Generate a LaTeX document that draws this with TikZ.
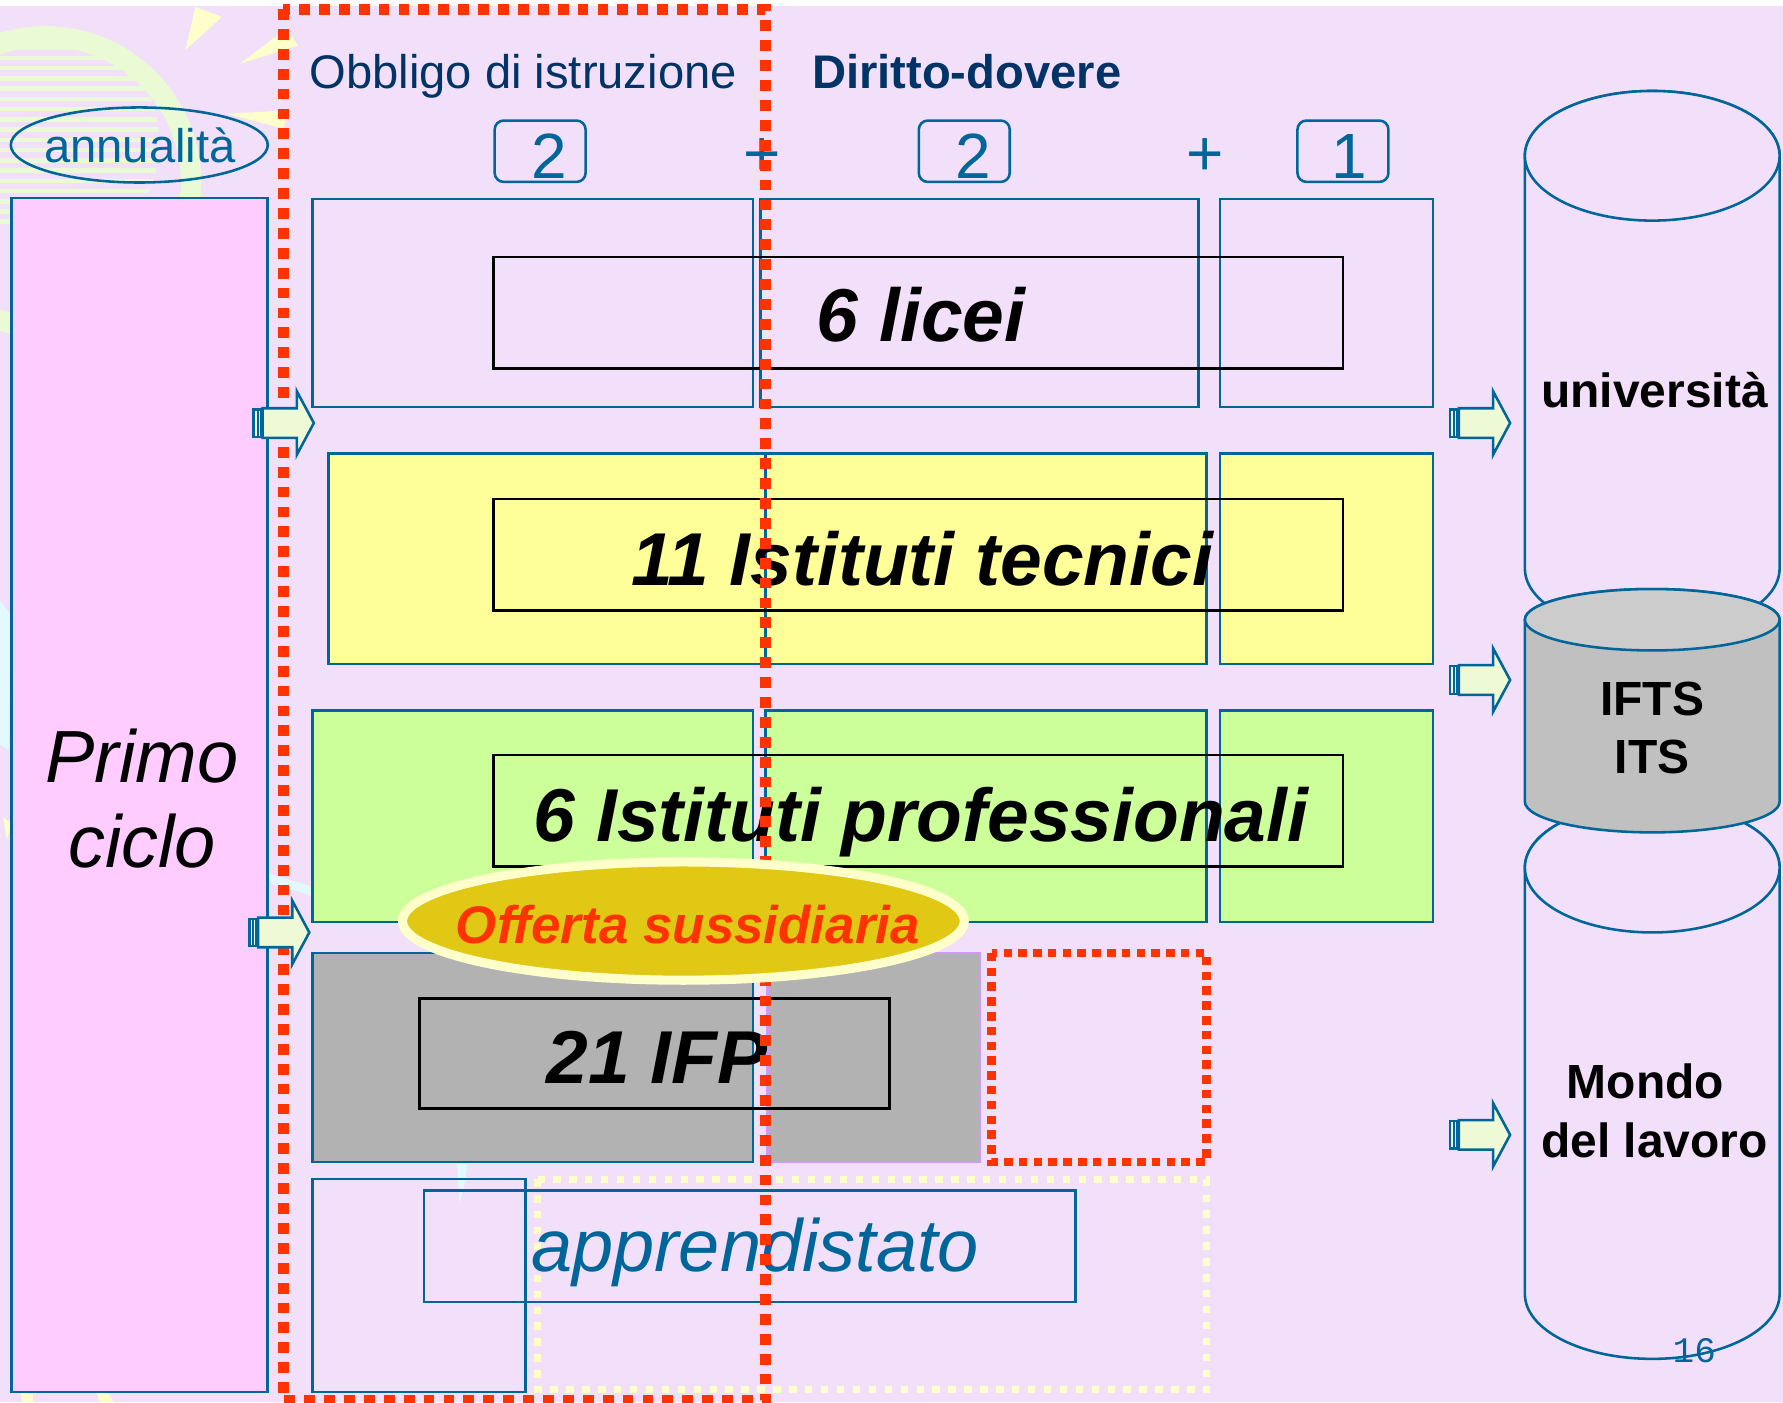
\documentclass[tikz,border=0pt]{standalone}
\usepackage{fontspec}
\setmainfont{Liberation Sans}
\newfontfamily\pagefont{Liberation Mono}
\usepackage{tikz}
\usetikzlibrary{calc}
\definecolor{slidebg}{RGB}{242,223,250}
\definecolor{frameblue}{RGB}{0,102,153}
\definecolor{navy}{RGB}{0,51,102}
\definecolor{primopink}{RGB}{255,204,255}
\definecolor{tecyellow}{RGB}{255,255,153}
\definecolor{profgreen}{RGB}{204,255,153}
\definecolor{ifpgray}{RGB}{178,178,178}
\definecolor{obbred}{RGB}{255,51,0}
\definecolor{creamdot}{RGB}{255,255,204}
\definecolor{goldfill}{RGB}{224,200,20}
\definecolor{arrowfill}{RGB}{238,250,214}
\definecolor{lilacline}{RGB}{204,153,255}
\definecolor{decogreen}{RGB}{234,250,212}
\definecolor{decocyan}{RGB}{228,248,255}
\definecolor{drumgray}{RGB}{192,192,192}
\definecolor{drumtop}{RGB}{204,204,204}
% striped block arrow: left end, centre line
\def\stripearrow(#1,#2){%
  \fill[frameblue] (#1,#2-13) rectangle (#1+9,#2+13);
  \draw[arrowfill, line width=0.25mm] (#1+3,#2-11) -- (#1+3,#2+11) (#1+6,#2-11) -- (#1+6,#2+11);
  \draw[frameblue, fill=arrowfill, line width=0.45mm] (#1+9,#2-13) -- (#1+39,#2-13) -- (#1+39,#2-28) -- (#1+54,#2) -- (#1+39,#2+28) -- (#1+39,#2+13) -- (#1+9,#2+13) -- cycle;
}
% drum: body fill, top centre, bottom centre, y radius, lid fill
\def\drum#1#2#3#4#5{%
  \draw[frameblue, line width=0.45mm, fill=#1] (1341,#2) -- (1341,#3) arc (180:0:112 and #4) -- (1565,#2) arc (0:-180:112 and #4) -- cycle;
  \draw[frameblue, line width=0.45mm, fill=#5] (1453,#2) ellipse (112 and #4);
}

\begin{document}
\begin{tikzpicture}[x=0.2mm, y=0.2mm, yscale=-1,
    rowframe/.style={draw=frameblue, line width=0.45mm},
    labelframe/.style={draw=black, line width=0.45mm},
    numframe/.style={draw=frameblue, line width=0.45mm, rounded corners=1.6mm},
    dashred/.style={draw=obbred, line width=1.95mm, dash pattern=on 1.9mm off 1.6mm},
    dotred/.style={draw=obbred, line width=1.5mm, dash pattern=on 1.5mm off 1.1mm},
    dotcream/.style={draw=creamdot, line width=1.25mm, dash pattern=on 1.3mm off 1.5mm},
    headfont/.style={text=navy, font=\fontsize{23.6}{29}\selectfont},
    numfont/.style={text=frameblue, font=\fontsize{32}{38}\selectfont},
    bigfont/.style={font=\fontsize{37.5}{44}\selectfont\bfseries\itshape},
    drumfont/.style={font=\fontsize{24}{29}\selectfont\bfseries}]
\useasboundingbox (0,0) rectangle (1568,1233);

%%%%% BACKGROUND %%%%%
\fill[white] (0,0) rectangle (1568,5);
\fill[slidebg] (0,5) rectangle (1568,1233);

\begin{scope}
  \clip (0,5) rectangle (249,1233);
  \draw[decogreen, line width=3.6mm] (40,160) circle (128);
  \clip (30,125) circle (110);
  \foreach \k in {0,...,17}
    \fill[decogreen] (0,40+9*\k) rectangle (160,44+9*\k);
\end{scope}
\fill[creamdot] (172,6) -- (195,15) -- (163,44) -- cycle;
\fill[creamdot] (211,56) -- (262,40) -- (252,25) -- cycle;
\fill[creamdot] (199,100) -- (254,97) -- (249,113) -- cycle;
\fill[creamdot] (3,719) -- (10,724) -- (6,739) -- cycle;
\fill[creamdot] (18,1225) -- (29,1226) -- (29,1233) -- (20,1233) -- cycle;
\fill[creamdot] (85,1225) -- (95,1225) -- (100,1233) -- (88,1233) -- cycle;
\fill[decocyan] (0,528) -- (9,540) -- (8,660) -- (0,655) -- cycle;
\fill[decocyan] (235,768) -- (276,780) -- (276,788) -- (240,778) -- cycle;
\fill[decocyan] (402,1024) -- (411,1024) -- (409,1040) -- (404,1059) -- cycle;

%%%%% PRIMO CICLO %%%%%
\draw[rowframe, fill=primopink] (10,174) rectangle (235,1224);
\node[font=\fontsize{37}{44}\selectfont\itshape, anchor=base] (primo) at (125,688) {Primo};
\node[font=\fontsize{37}{44}\selectfont\itshape, anchor=base] (ciclo) at (125,763) {ciclo};

\draw[frameblue, line width=0.45mm] (122.5,127.5) ellipse (113 and 33);
\node[headfont, text=frameblue] (annual) at (123,128) {annualità};

%%%%% HEADINGS %%%%%
\node[headfont, anchor=base west] (obbligo) at (266,78) {Obbligo di istruzione};
\node[headfont, anchor=base west, font=\fontsize{23.6}{29}\selectfont\bfseries] (diritto) at (708,78) {Diritto-dovere};

\draw[numframe] (435,106) rectangle (515,160);
\node[numfont, anchor=base] (anni1) at (483,157) {2};
\node[numfont] (piu1) at (670,138) {+};
\draw[numframe] (808,106) rectangle (888,160);
\node[numfont, anchor=base] (anni2) at (856,157) {2};
\node[numfont] (piu2) at (1060,138) {+};
\draw[numframe] (1141,106) rectangle (1221,160);
\node[numfont, anchor=base] (anni3) at (1187,157) {1};

%%%%% LICEI %%%%%
\draw[rowframe] (275,175) rectangle (662,358);
\draw[rowframe] (669,175) rectangle (1054,358);
\draw[rowframe] (1073,175) rectangle (1260,358);
\draw[labelframe] (434,226) rectangle (1181,324);
\node[bigfont, anchor=base] (licei) at (810,300) {6 licei};

%%%%% TECNICI %%%%%
\draw[rowframe, fill=tecyellow] (289,399) rectangle (673,584);
\draw[rowframe, fill=tecyellow] (673,399) rectangle (1061,584);
\draw[rowframe, fill=tecyellow] (1073,399) rectangle (1260,584);
\draw[labelframe] (434,439) rectangle (1181,537);
\node[bigfont, anchor=base] (tecnici) at (811,515) {11 Istituti tecnici};

%%%%% PROFESSIONALI %%%%%
\draw[rowframe, fill=profgreen] (275,625) rectangle (662,811);
\draw[rowframe, fill=profgreen] (673,625) rectangle (1061,811);
\draw[rowframe, fill=profgreen] (1073,625) rectangle (1260,811);
\draw[labelframe] (434,664) rectangle (1181,762);
\node[bigfont, anchor=base] (profess) at (810,740) {6 Istituti professionali};

%%%%% IFP %%%%%
\draw[rowframe, fill=ifpgray] (275,838) rectangle (662,1022);
\draw[draw=lilacline, line width=0.45mm, fill=ifpgray] (675,838) rectangle (862,1022);
\draw[labelframe] (369,878) rectangle (782,975);
\node[bigfont, anchor=base] (ifp) at (578,953) {21 IFP};

%%%%% APPRENDISTATO %%%%%
\draw[rowframe] (275,1037) rectangle (462,1224);
\draw[dotcream] (473,1037) rectangle (1061,1222);
\draw[rowframe] (373,1047) rectangle (946,1145);
\node[text=frameblue, font=\fontsize{37}{44}\selectfont\itshape, anchor=base] (appr) at (664,1118) {apprendistato};

%%%%% OBBLIGO FRAME %%%%%
\draw[dashred] (249,8) rectangle (673,1232);
\draw[dotred] (872,838) rectangle (1061,1022);

%%%%% ARROWS %%%%%
\stripearrow(222,372)
\stripearrow(218,820)
\stripearrow(1274,372)
\stripearrow(1274,598)
\stripearrow(1274,998)

\draw[draw=creamdot, line width=1.6mm, fill=goldfill] (601,810) ellipse (247 and 52);
\node[text=obbred, font=\fontsize{26.5}{32}\selectfont\bfseries\itshape, anchor=base] (offerta) at (605,830) {Offerta sussidiaria};

%%%%% USCITE %%%%%
\drum{slidebg}{137}{500}{57}{slidebg}
\drum{slidebg}{763}{1138}{57}{slidebg}
\drum{drumgray}{545}{705}{27}{drumtop}
\node[drumfont, anchor=base] (univ) at (1455,358) {università};
\node[drumfont, anchor=base] (ifts) at (1453,629) {IFTS};
\node[drumfont, anchor=base] (its) at (1453,680) {ITS};
\node[drumfont, anchor=base] (mondo) at (1447,966) {Mondo};
\node[drumfont, anchor=base] (lavoro) at (1455,1018) {del lavoro};

\node[text=frameblue, font=\fontsize{18}{22}\selectfont\pagefont, anchor=base] (pagina) at (1490,1198) {16};
\end{tikzpicture}
\end{document}
